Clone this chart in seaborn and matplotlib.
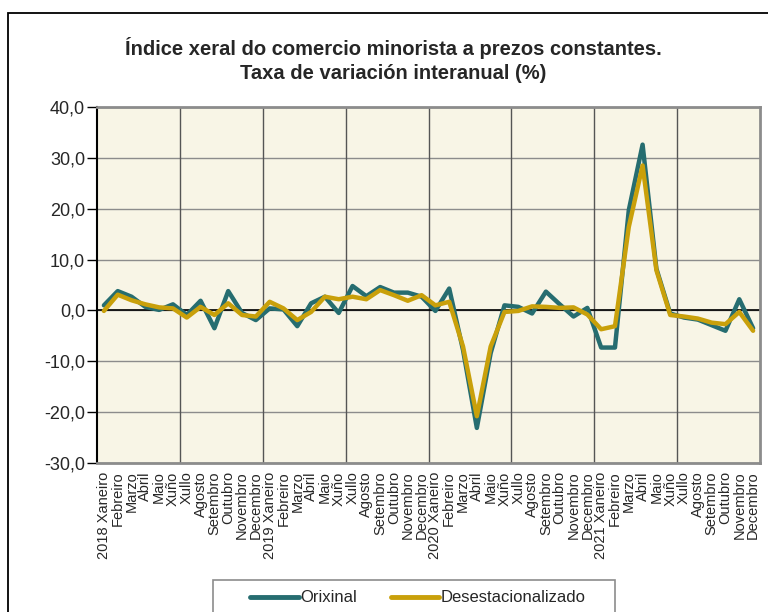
import matplotlib
matplotlib.use("Agg")
import matplotlib.pyplot as plt
from matplotlib.patches import Rectangle
from matplotlib.lines import Line2D
import numpy as np
import pandas as pd
import seaborn as sns

years = ["2018", "2019", "2020", "2021"]
months = ["Xaneiro", "Febreiro", "Marzo", "Abril", "Maio", "Xuño", "Xullo",
          "Agosto", "Setembro", "Outubro", "Novembro", "Decembro"]

orixinal = [1.0, 3.8, 2.7, 0.7, 0.1, 1.2, -0.9, 1.9, -3.5, 3.8, -0.5, -1.9,
            0.4, 0.2, -3.1, 1.4, 2.7, -0.5, 4.8, 2.8, 4.6, 3.5, 3.5, 2.7,
            -0.1, 4.3, -7.8, -23.1, -8.4, 1.0, 0.7, -0.6, 3.7, 1.2, -1.2, 0.5,
            -7.3, -7.3, 19.7, 32.6, 8.2, -0.6, -1.4, -1.8, -2.9, -4.0, 2.2, -3.5]

desestacionalizado = [-0.1, 3.1, 2.0, 1.2, 0.6, 0.4, -1.4, 0.7, -0.9, 1.4, -0.9, -1.2,
                      1.7, 0.4, -1.9, -0.3, 2.7, 2.2, 2.7, 2.2, 4.0, 3.0, 1.9, 3.0,
                      1.0, 1.7, -7.1, -20.8, -7.1, -0.3, -0.1, 0.8, 0.7, 0.5, 0.6, -0.8,
                      -3.7, -3.1, 16.4, 28.5, 7.9, -0.9, -1.2, -1.6, -2.4, -2.7, -0.3, -4.0]

labels = []
for y in years:
    for i, m in enumerate(months):
        labels.append(f"{y} {m}" if i == 0 else m)

n = len(labels)
df = pd.DataFrame({
    "x": list(range(n)) * 2,
    "valor": orixinal + desestacionalizado,
    "serie": ["Orixinal"] * n + ["Desestacionalizado"] * n,
})

teal = "#266D70"
gold = "#C9A00A"

sns.set_style("white")
plt.rcParams["font.family"] = ["Liberation Sans", "DejaVu Sans"]

fig = plt.figure(figsize=(7.68, 6.12), dpi=100)
ax = fig.add_axes([97 / 768, 1 - 463 / 612, (760 - 97) / 768, (463 - 107) / 612])
ax.set_facecolor("#F8F5E6")

sns.lineplot(data=df, x="x", y="valor", hue="serie", ax=ax,
             palette={"Orixinal": teal, "Desestacionalizado": gold},
             linewidth=3.2, legend=False)

ax.set_xlim(-0.5, n - 0.5)
ax.set_ylim(-30, 40)
ax.set_yticks(np.arange(-30, 41, 10))
ax.set_yticklabels([f"{v:.1f}".replace(".", ",") for v in np.arange(-30, 41, 10)], fontsize=13)
ax.set_xticks(range(n))
ax.set_xticklabels(labels, rotation=90, fontsize=10.5, va="top", ha="center")
ax.tick_params(axis="x", length=0, pad=6)
ax.tick_params(axis="y", length=7, width=1, color="black", pad=1.5, left=True)
ax.set_xlabel("")
ax.set_ylabel("")

# reixa
for v in np.arange(-30, 41, 10):
    ax.axhline(v, color="#8C8C8C", lw=1.0, zorder=0.5)
for v in np.arange(5.5, n - 1, 6):
    ax.axvline(v, color="#555555", lw=1.0, zorder=0.5)
ax.axhline(0, color="black", lw=1.2, zorder=1)

for s in ["top", "right", "bottom"]:
    ax.spines[s].set_color("#8C8C8C")
    ax.spines[s].set_linewidth(2.0)
ax.spines["left"].set_color("black")
ax.spines["left"].set_linewidth(1.5)

fig.text(0.512, 1 - 60 / 612,
         "Índice xeral do comercio minorista a prezos constantes.\nTaxa de variación interanual (%)",
         ha="center", va="center", fontsize=14.5, fontweight="bold", linespacing=1.35)

# lenda
handles = [Line2D([], [], color=teal, lw=3.5), Line2D([], [], color=gold, lw=3.5)]
leg = fig.legend(handles, ["Orixinal", "Desestacionalizado"], loc="center",
                 bbox_to_anchor=(418 / 768, 1 - 598 / 612), ncol=2, fontsize=12,
                 frameon=False, handlelength=2.9, handletextpad=0.1,
                 columnspacing=2.0, borderpad=0)
fig.patches.append(Rectangle((213 / 768, -0.05), (615 - 213) / 768, 0.05 + 1 - 580 / 612,
                             transform=fig.transFigure, fill=False,
                             edgecolor="#8C8C8C", lw=1.2))

# marco exterior
fig.patches.append(Rectangle((8 / 768, -0.1), 1.2, 1.1 - 13 / 612, transform=fig.transFigure,
                             fill=False, edgecolor="black", lw=1.3))

fig.savefig("out.png", dpi=100)
